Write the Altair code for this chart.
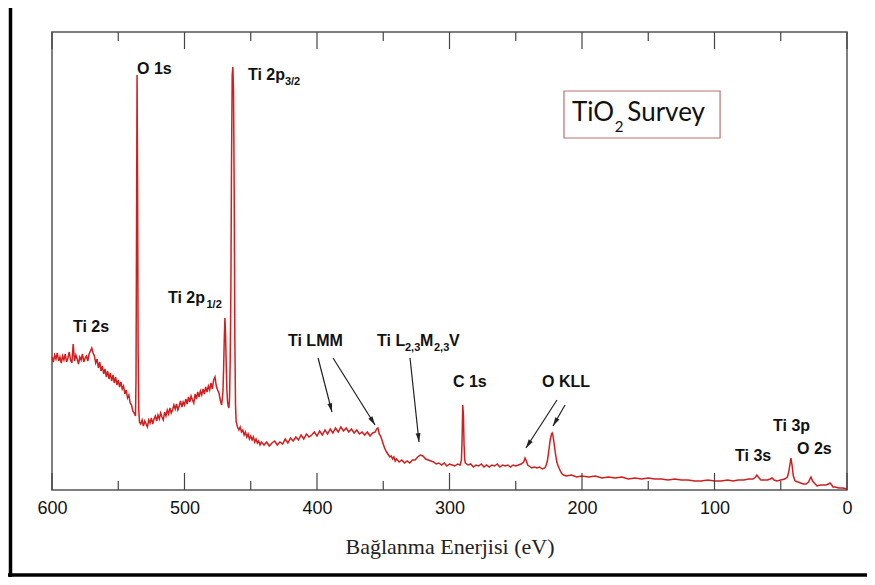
import math
import altair as alt
import pandas as pd

# ---------------- data (binding energy eV, intensity) ----------------
spectrum_600_537 = [
    (600, 133), (599, 128), (598, 135), (597, 131), (596, 137), (595, 129), (594, 133), (593, 127),
    (592, 134), (591, 130), (590, 136), (589, 128), (588, 132), (587, 138), (586, 130), (585, 127),
    (584, 146), (583, 129), (582, 135), (581, 131), (580, 126), (579, 133), (578, 130), (577, 136),
    (576, 128), (575, 132), (574, 134), (573, 129), (572, 136), (571, 139), (570, 142), (569, 137),
    (568, 134), (567, 127), (566, 131), (565, 122), (564, 128), (563, 119), (562, 124), (561, 116),
    (560, 121), (559, 113), (558, 119), (557, 111), (556, 117), (555, 109), (554, 115), (553, 107),
    (552, 113), (551, 105), (550, 110), (549, 103), (548, 108), (547, 101), (546, 104), (545, 96),
    (544, 100), (543, 92), (542, 95), (541, 87), (540, 85), (539, 79), (538, 77), (537, 74),
]
spectrum_o1s = [
    (536.6, 110), (536.2, 260), (535.8, 415), (535.4, 300), (535, 140), (534.5, 80), (534, 68),
]
spectrum_533_479 = [
    (533, 66), (532, 70), (531, 64), (530, 69), (529, 66), (528, 63), (527, 70), (526, 67),
    (525, 72), (524, 66), (523, 71), (522, 74), (521, 69), (520, 75), (519, 71), (518, 77),
    (517, 73), (516, 70), (515, 78), (514, 74), (513, 80), (512, 76), (511, 82), (510, 77),
    (509, 80), (508, 85), (507, 81), (506, 86), (505, 80), (504, 84), (503, 89), (502, 83),
    (501, 88), (500, 85), (499, 91), (498, 86), (497, 93), (496, 88), (495, 94), (494, 90),
    (493, 87), (492, 96), (491, 91), (490, 98), (489, 93), (488, 99), (487, 95), (486, 101),
    (485, 96), (484, 103), (483, 98), (482, 104), (481, 100), (480, 107), (479, 101),
]
spectrum_ti2p = [
    (478, 110), (477, 113), (476, 104), (475, 100), (474, 97), (473, 90), (472, 85), (471, 98),
    (470.5, 120), (470, 150), (469.5, 172), (469, 155), (468.5, 125), (468, 100), (467.5, 88),
    (467, 84), (466.5, 82), (466, 92), (465.5, 130), (465, 200), (464.5, 330), (464, 415),
    (463.5, 423), (463, 400), (462.5, 300), (462, 150), (461.5, 85), (461, 68), (460, 63),
]
spectrum_459_352 = [
    (459, 60), (458, 63), (457, 58), (456, 60), (455, 55), (454, 58), (453, 53), (452, 56),
    (451, 51), (450, 54), (449, 50), (448, 53), (447, 48), (446, 51), (445, 47), (444, 49),
    (443, 45), (442, 48), (440, 45), (438, 48), (436, 44), (434, 47), (432, 49), (430, 45),
    (428, 48), (426, 46), (424, 51), (422, 47), (420, 52), (418, 49), (416, 53), (414, 50),
    (412, 55), (410, 51), (408, 56), (406, 53), (404, 55), (402, 58), (400, 54), (398, 59),
    (396, 55), (394, 60), (392, 56), (390, 61), (388, 57), (386, 62), (384, 58), (382, 63),
    (380, 59), (378, 62), (376, 58), (374, 61), (372, 57), (370, 60), (368, 56), (366, 58),
    (364, 55), (362, 58), (360, 54), (358, 57), (356, 58), (355, 61), (354, 62), (353, 56),
    (352, 54),
]
spectrum_351_288 = [
    (351, 50), (350, 46), (349, 42), (348, 39), (347, 37), (346, 35), (345, 33), (344, 34),
    (343, 31), (342, 33), (341, 29), (340, 31), (338, 28), (336, 30), (334, 27), (332, 29),
    (330, 27), (328, 30), (326, 30), (324, 33), (322, 35), (320, 34), (318, 31), (316, 30),
    (314, 29), (312, 28), (310, 26), (308, 27), (306, 25), (304, 27), (302, 24), (300, 26),
    (298, 25), (296, 24), (294, 26), (292, 25), (291, 30), (290.5, 50), (290, 85), (289.5, 75),
    (289, 45), (288.5, 30), (288, 27),
]
spectrum_286_214 = [
    (286, 25), (284, 26), (282, 23), (280, 25), (278, 24), (276, 26), (274, 23), (272, 25),
    (270, 23), (268, 25), (266, 24), (264, 26), (262, 23), (260, 25), (258, 24), (256, 25),
    (254, 23), (252, 25), (250, 24), (248, 25), (246, 26), (244, 28), (243, 32), (242, 29),
    (241, 25), (240, 24), (238, 22), (236, 23), (234, 22), (232, 23), (230, 21), (228, 22),
    (227, 25), (226, 30), (225, 40), (224, 50), (223, 56), (222.5, 57), (222, 55), (221, 46),
    (220, 36), (219, 28), (218, 24), (217, 21), (216, 18), (215, 16), (214, 15),
]
spectrum_212_0 = [
    (212, 14), (208, 15), (204, 13), (200, 14), (195, 13), (190, 14), (185, 12), (180, 13),
    (175, 12), (170, 13), (165, 11), (160, 12), (155, 11), (150, 12), (145, 11), (140, 11),
    (135, 10), (130, 11), (125, 10), (120, 10), (115, 9), (110, 9), (105, 10), (100, 9),
    (95, 9), (90, 10), (86, 9), (82, 10), (78, 10), (74, 11), (71, 11), (69, 13), (68, 15),
    (67, 13), (65, 10), (63, 10), (60, 10), (58, 11), (56.6, 12), (55, 10), (52.8, 9), (50, 10),
    (47, 11), (45, 13), (44, 18), (43, 26), (42.3, 32), (41.5, 25), (40.5, 14), (39.2, 9),
    (37, 8), (35, 7), (33, 6), (31, 6), (29, 8), (28, 11), (27.2, 13), (26, 9), (24, 6),
    (22.6, 4), (20, 5), (18, 5), (16, 5), (14, 6), (12.8, 7), (11.5, 5), (10.6, 3), (9, 3),
    (6, 2), (3, 2), (0, 1),
]

major_ticks = [0, 100, 200, 300, 400, 500, 600]
minor_ticks = [50, 150, 250, 350, 450, 550]

label_text = ["Ti 2s", "O 1s", "Ti 2p", "3/2", "Ti 2p", "1/2", "Ti LMM", "Ti L", "2,3", "M", "2,3", "V",
              "C 1s", "O KLL", "Ti 3s", "Ti 3p", "O 2s"]
label_e = [584.2, 535.8, 452.1, 424.2, 512.5, 483.4, 421.9, 354.7, 333.6, 322.3, 311.7, 300.4,
           297.4, 230.2, 84.5, 55.8, 37.7]
label_i = [163, 421, 415, 408, 192, 185, 149, 149, 142, 149, 142, 149, 108, 108, 34, 64, 41]
label_sub = [0, 0, 0, 1, 0, 1, 0, 0, 1, 0, 1, 0, 0, 0, 0, 0, 0]

arrow_e1 = [399.2, 387.9, 329.8, 218.9, 212.8]
arrow_i1 = [132, 132, 132, 90, 85]
arrow_e2 = [388.7, 356.2, 323.0, 242.3, 221.9]
arrow_i2 = [78, 65, 48, 42, 64]

box_e = [213.6, 95.8]
box_i = [352, 399]
tio2_text = ["TiO", "2", "Survey"]
tio2_e = [207.5, 175.3, 165.8]
tio2_i = [377, 363, 377]
tio2_sub = [0, 1, 0]

# ---------------- layout ----------------
W, H = 795, 458
E_MAX, I_MAX = 600, 458
PX_PER_EV = W / E_MAX
PX_PER_I = H / I_MAX
MAJOR_LEN, MINOR_LEN = 17, 9
RED = "#d01f1f"

xs = alt.Scale(domain=[0, E_MAX], reverse=True, nice=False, zero=False)
ys = alt.Scale(domain=[0, I_MAX], nice=False, zero=False)

segments = [spectrum_600_537, spectrum_o1s, spectrum_533_479, spectrum_ti2p,
            spectrum_459_352, spectrum_351_288, spectrum_286_214, spectrum_212_0]
rows = [p for seg in segments for p in seg]
spec = pd.DataFrame(rows, columns=["E", "I"])

x_axis = alt.Axis(values=major_ticks, format="d", ticks=False, domain=False, grid=False,
                  labelFont="Liberation Sans", labelFontSize=18, labelColor="#111",
                  labelPadding=9, labelFlush=False, labelOverlap=False,
                  title="Bağlanma Enerjisi (eV)", titleFont="Liberation Serif",
                  titleFontSize=22, titleFontWeight="normal", titleColor="#222", titlePadding=19)

line = alt.Chart(spec).mark_line(color=RED, strokeWidth=1.5).encode(
    x=alt.X("E:Q", scale=xs, axis=x_axis),
    y=alt.Y("I:Q", scale=ys, axis=None),
    order="E:Q",
)

def tick_layer(vals, y0, y1):
    return alt.Chart(pd.DataFrame({"E": vals})).mark_rule(color="#444", strokeWidth=1.2).encode(
        x=alt.X("E:Q", scale=xs), y=alt.value(y0), y2=alt.value(y1))

ticks = [tick_layer(major_ticks, 0, MAJOR_LEN), tick_layer(major_ticks, H, H - MAJOR_LEN),
         tick_layer(minor_ticks, 0, MINOR_LEN), tick_layer(minor_ticks, H, H - MINOR_LEN)]

lab = pd.DataFrame({"E": label_e, "I": label_i, "t": label_text,
                    "fs": [11 if s else 16 for s in label_sub]})
labels = alt.Chart(lab).mark_text(align="left", baseline="middle", font="Liberation Sans",
                                  fontWeight="bold", color="#111").encode(
    x=alt.X("E:Q", scale=xs), y=alt.Y("I:Q", scale=ys), text="t:N",
    size=alt.Size("fs:Q", scale=None, legend=None))

arr = pd.DataFrame({"E1": arrow_e1, "I1": arrow_i1, "E2": arrow_e2, "I2": arrow_i2})
arr["angle"] = [
    math.degrees(math.atan2((a - b) * PX_PER_EV, -(c - d) * PX_PER_I)) % 360
    for a, b, c, d in zip(arrow_e1, arrow_e2, arrow_i1, arrow_i2)
]
shafts = alt.Chart(arr).mark_rule(color="#222", strokeWidth=1.2).encode(
    x=alt.X("E1:Q", scale=xs), y=alt.Y("I1:Q", scale=ys), x2="E2:Q", y2="I2:Q")
heads = alt.Chart(arr).mark_point(shape="M0,0L0.6,2.2L-0.6,2.2Z", filled=True, color="#222",
                                  opacity=1, size=64, strokeWidth=0).encode(
    x=alt.X("E2:Q", scale=xs), y=alt.Y("I2:Q", scale=ys),
    angle=alt.Angle("angle:Q", scale=None))

box = alt.Chart(pd.DataFrame({"E": [box_e[0]], "E2": [box_e[1]], "I": [box_i[0]], "I2": [box_i[1]]})).mark_rect(
    fill="white", stroke="#b87070", strokeWidth=1.2).encode(
    x=alt.X("E:Q", scale=xs), x2="E2:Q", y=alt.Y("I:Q", scale=ys), y2="I2:Q")
tio = pd.DataFrame({"E": tio2_e, "I": tio2_i, "t": tio2_text, "fs": [15 if s else 26 for s in tio2_sub]})
tio_text = alt.Chart(tio).mark_text(align="left", baseline="middle", font="Lato", color="#111").encode(
    x=alt.X("E:Q", scale=xs), y=alt.Y("I:Q", scale=ys), text="t:N",
    size=alt.Size("fs:Q", scale=None, legend=None))

one = pd.DataFrame({"k": [0]})
border_left = alt.Chart(one).mark_rule(color="black", strokeWidth=3.5).encode(
    x=alt.value(-41.5), y=alt.value(-40), y2=alt.value(546))
border_bottom = alt.Chart(one).mark_rule(color="black", strokeWidth=3.5).encode(
    y=alt.value(543), x=alt.value(-44), x2=alt.value(830))

chart = alt.layer(line, *ticks, shafts, heads, labels, box, tio_text, border_left, border_bottom).properties(
    width=W, height=H,
    padding={"left": 44, "top": 24, "right": 20, "bottom": 87},
    autosize=alt.AutoSizeParams(type="none"),
    background="white",
).configure_view(stroke="#555", strokeWidth=1.5)

chart.save("out.html", embed_options={"renderer": "svg", "actions": False})
